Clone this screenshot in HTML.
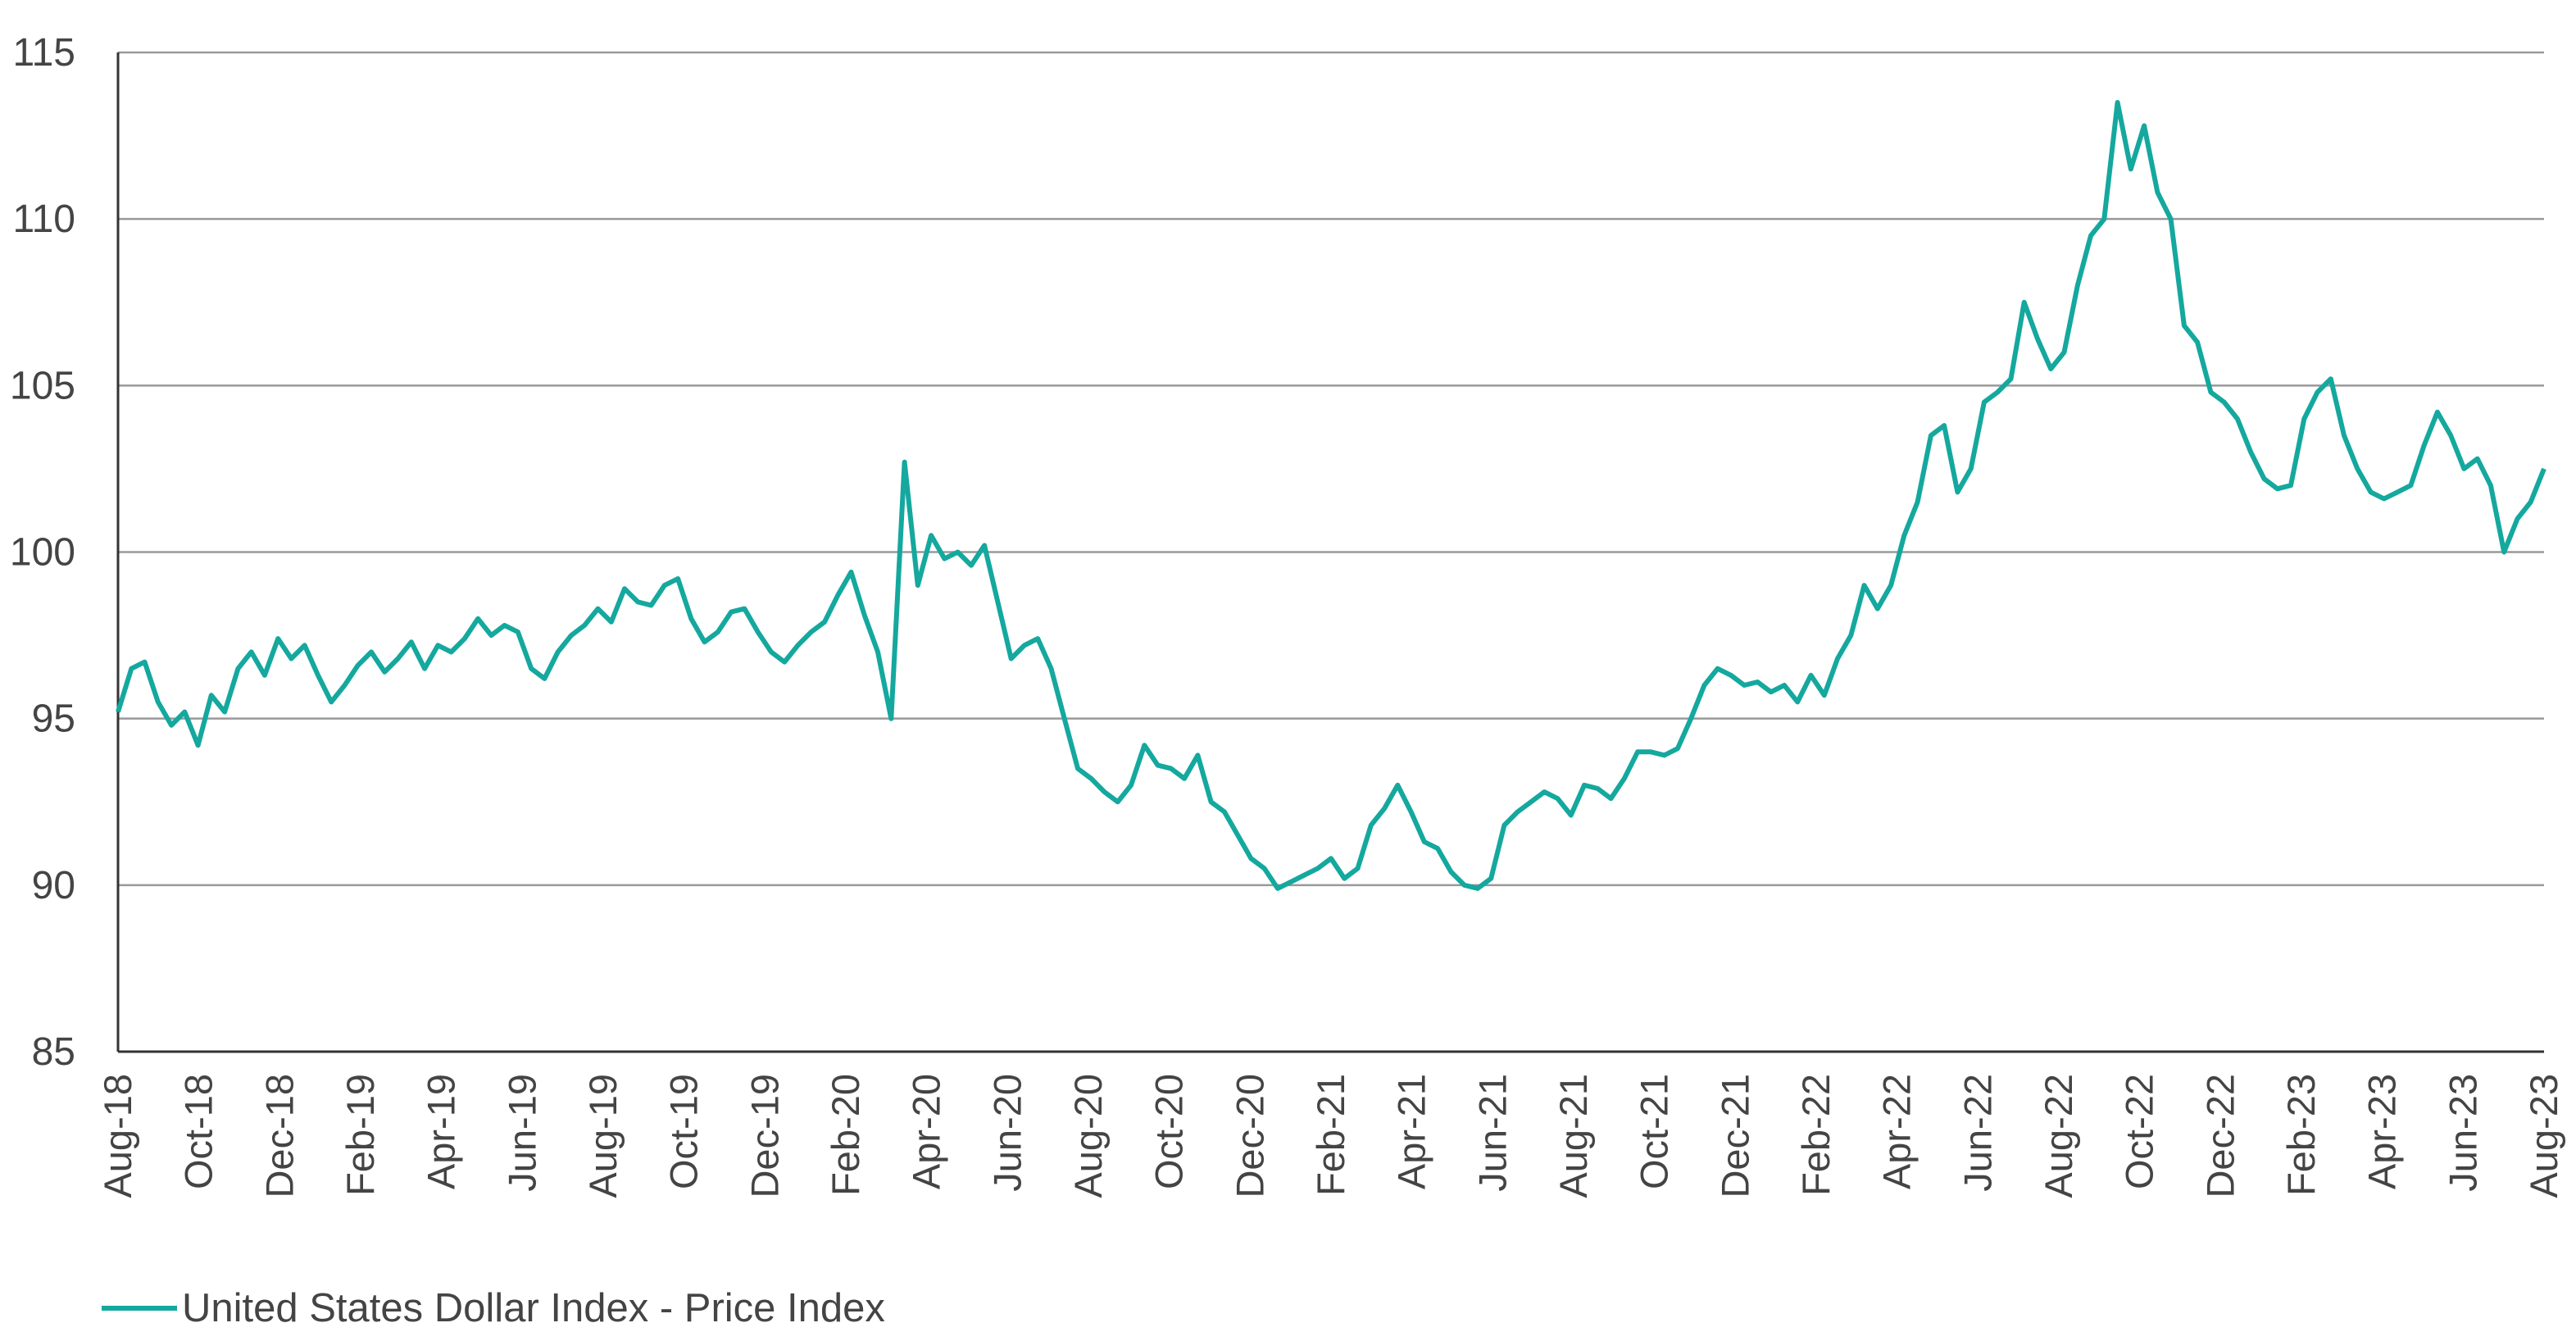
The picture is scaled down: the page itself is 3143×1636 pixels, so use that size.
<!DOCTYPE html>
<html><head><meta charset="utf-8"><style>
html,body{margin:0;padding:0;background:#fff;}
svg{display:block;font-family:"Liberation Sans",sans-serif;}
</style></head><body>
<svg id="chart" width="3143" height="1636" viewBox="0 0 3143 1636" xmlns="http://www.w3.org/2000/svg">
<g id="grid"></g>
<g id="yaxis"></g>
<g id="xaxis"></g>
<path id="line" fill="none" stroke="#14A89E" stroke-width="6" stroke-linejoin="round"/>
<g>
<line x1="124" y1="1596" x2="216" y2="1596" stroke="#14A89E" stroke-width="6"/>
<text x="222" y="1612" font-size="49" fill="#444">United States Dollar Index - Price Index</text>
</g>
</svg>
<script>
const yTicks=[85,90,95,100,105,110,115];
const xLabels=["Aug-18","Oct-18","Dec-18","Feb-19","Apr-19","Jun-19","Aug-19","Oct-19","Dec-19","Feb-20","Apr-20","Jun-20","Aug-20","Oct-20","Dec-20","Feb-21","Apr-21","Jun-21","Aug-21","Oct-21","Dec-21","Feb-22","Apr-22","Jun-22","Aug-22","Oct-22","Dec-22","Feb-23","Apr-23","Jun-23","Aug-23"];
const values=[95.2,96.5,96.7,95.5,94.8,95.2,94.2,95.7,95.2,96.5,97.0,96.3,97.4,96.8,97.2,96.3,95.5,96.0,96.6,97.0,96.4,96.8,97.3,96.5,97.2,97.0,97.4,98.0,97.5,97.8,97.6,96.5,96.2,97.0,97.5,97.8,98.3,97.9,98.9,98.5,98.4,99.0,99.2,98.0,97.3,97.6,98.2,98.3,97.6,97.0,96.7,97.2,97.6,97.9,98.7,99.4,98.1,97.0,95.0,102.7,99.0,100.5,99.8,100.0,99.6,100.2,98.5,96.8,97.2,97.4,96.5,95.0,93.5,93.2,92.8,92.5,93.0,94.2,93.6,93.5,93.2,93.9,92.5,92.2,91.5,90.8,90.5,89.9,90.1,90.3,90.5,90.8,90.2,90.5,91.8,92.3,93.0,92.2,91.3,91.1,90.4,90.0,89.9,90.2,91.8,92.2,92.5,92.8,92.6,92.1,93.0,92.9,92.6,93.2,94.0,94.0,93.9,94.1,95.0,96.0,96.5,96.3,96.0,96.1,95.8,96.0,95.5,96.3,95.7,96.8,97.5,99.0,98.3,99.0,100.5,101.5,103.5,103.8,101.8,102.5,104.5,104.8,105.2,107.5,106.4,105.5,106.0,108.0,109.5,110.0,113.5,111.5,112.8,110.8,110.0,106.8,106.3,104.8,104.5,104.0,103.0,102.2,101.9,102.0,104.0,104.8,105.2,103.5,102.5,101.8,101.6,101.8,102.0,103.2,104.2,103.5,102.5,102.8,102.0,100.0,101.0,101.5,102.5];
const X0=144,X1=3104,Y0=1283,Y1=64;
const ns="http://www.w3.org/2000/svg";
function xMonth(m){return X0+(X1-X0)*m/60;}
function yVal(v){return Y0-(v-85)/30*(Y0-Y1);}
const grid=document.getElementById('grid'),ya=document.getElementById('yaxis'),xa=document.getElementById('xaxis');
yTicks.forEach(t=>{
 const l=document.createElementNS(ns,'line');
 
 
 l.setAttribute('x1',X0);l.setAttribute('x2',X1);l.setAttribute('y1',yVal(t));l.setAttribute('y2',yVal(t));
 l.setAttribute('stroke',t===85?'#333':'#999');l.setAttribute('stroke-width',t===85?3:2.5);
 grid.appendChild(l);
 const tx=document.createElementNS(ns,'text');
 
 
 tx.setAttribute('x',92);tx.setAttribute('y',yVal(t)+16);tx.setAttribute('text-anchor','end');
 tx.setAttribute('font-size','48');tx.setAttribute('fill','#444');tx.textContent=t;
 ya.appendChild(tx);
});
const ax=document.createElementNS(ns,'line');


ax.setAttribute('x1',X0);ax.setAttribute('x2',X0);ax.setAttribute('y1',Y1);ax.setAttribute('y2',Y0);
ax.setAttribute('stroke','#333');ax.setAttribute('stroke-width',3);grid.appendChild(ax);
xLabels.forEach((lab,i)=>{
 const x=xMonth(i*2);
 const tx=document.createElementNS(ns,'text');
 
 
 tx.setAttribute('transform','translate('+(x+16)+',1310) rotate(-90)');
 tx.setAttribute('text-anchor','end');tx.setAttribute('font-size','47');tx.setAttribute('fill','#444');
 tx.textContent=lab;xa.appendChild(tx);
});
let d='';
values.forEach((v,i)=>{const m=60*i/(values.length-1);d+=(i?'L':'M')+xMonth(m).toFixed(1)+','+yVal(v).toFixed(1);});
document.getElementById('line').setAttribute('d',d);
</script>
</body></html>
